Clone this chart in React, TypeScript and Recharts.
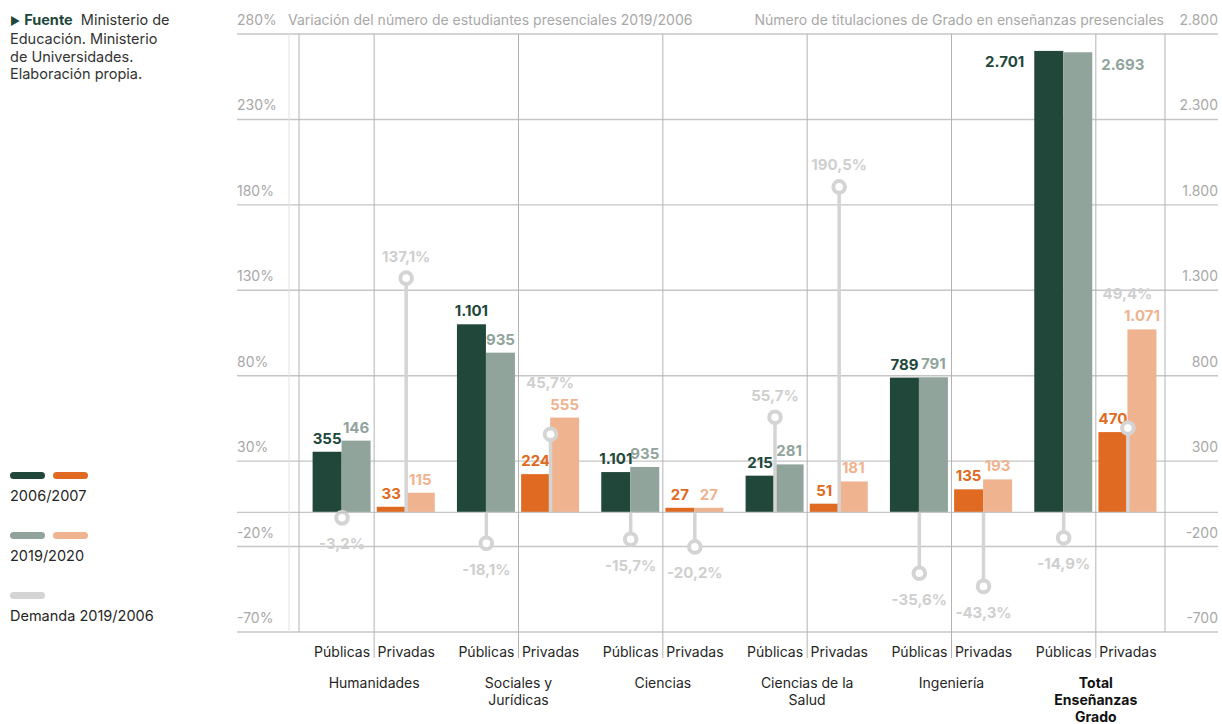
import React from 'react';
import { ComposedChart, Bar, XAxis, YAxis, CartesianGrid, ReferenceLine } from 'recharts';

const grupos = ['Humanidades', 'Sociales y|Jurídicas', 'Ciencias', 'Ciencias de la|Salud', 'Ingeniería', 'Total|Enseñanzas|Grado'];
const tipos = ['Públicas', 'Privadas'];

// altura de las barras tal como se ven en el gráfico
const titulaciones2006 = [355, 33, 1101, 224, 236, 27, 215, 51, 789, 135, 2701, 470];
const titulaciones2019 = [420, 115, 935, 555, 266, 27, 281, 181, 791, 193, 2693, 1071];
// cifras rotuladas (en el original no siempre coinciden con la barra)
const rotulos2006 = [355, 33, 1101, 224, 1101, 27, 215, 51, 789, 135, 2701, 470];
const rotulos2019 = [146, 115, 935, 555, 935, 27, 281, 181, 791, 193, 2693, 1071];
// variación de estudiantes 2019/2006 (%)
const demanda = [-3.2, 137.1, -18.1, 45.7, -15.7, -20.2, 55.7, 190.5, -35.6, -43.3, -14.9, 49.4];

const ticksPct = [-70, -20, 30, 80, 130, 180, 230, 280];
const FACTOR = 10; // el eje derecho es el izquierdo x10
const ticksNum = ticksPct.map((t) => t * FACTOR);

const W = 1222;
const H = 724;
// los ejes ocupan 1px cada uno
const MARGIN = { top: 34, right: 3, bottom: 91, left: 236 };
const PLOT_L = MARGIN.left + 1;
const PLOT_R = W - MARGIN.right - 1;
const PLOT_B = H - MARGIN.bottom - 1;
const PAD = { left: 65, right: 50 };
const PLOT_H = PLOT_B - MARGIN.top;
const BAND = (PLOT_R - PLOT_L - PAD.left - PAD.right) / (grupos.length * tipos.length);

const C = {
  pub06: '#21473b',
  pub19: '#91a49c',
  priv06: '#e06a22',
  priv19: '#f0b38f',
  dem: '#d4d4d4',
  demTxt: '#cfcfcf',
  grid: '#c6c6c6',
  split: '#b3b3b3',
  eje: '#a8a8a8',
  texto: '#262626',
};
const FONT = 'Inter, "Noto Sans", sans-serif';

const datos = grupos.flatMap((g, gi) =>
  tipos.map((t, ti) => {
    const i = gi * tipos.length + ti;
    return {
      cat: `${g}#${t}`,
      grupo: g,
      tipo: t,
      i,
      v2006: titulaciones2006[i],
      v2019: titulaciones2019[i],
      demanda: demanda[i],
    };
  })
);

const fmtNum = (n: number) => {
  const s = Math.abs(n);
  const txt = s >= 1000 ? `${Math.floor(s / 1000)}.${String(s % 1000).padStart(3, '0')}` : String(s);
  return n < 0 ? `-${txt}` : txt;
};
const fmtPct = (v: number) => `${v.toFixed(1).replace('.', ',')}%`;
const desplaz = (tipo: string) => (tipo === 'Públicas' ? 4 : -4);
// el círculo de demanda queda dentro de la barra 2019 -> rótulo encima de la barra
const demandaDentro = (i: number) =>
  tipos[i % 2] === 'Privadas' && demanda[i] > 0 && demanda[i] * FACTOR < titulaciones2019[i];

const estiloRotulo = { fontFamily: FONT, fontSize: 15, fontWeight: 700 };

function barra(props: any, serie: '2006' | '2019') {
  const { x, y, width, height, payload } = props;
  const pub = payload.tipo === 'Públicas';
  const bx = x + desplaz(payload.tipo);
  const fill = serie === '2006' ? (pub ? C.pub06 : C.priv06) : pub ? C.pub19 : C.priv19;
  const texto = fmtNum(serie === '2006' ? rotulos2006[payload.i] : rotulos2019[payload.i]);
  let rotulo;
  if (y - 22 < MARGIN.top) {
    rotulo =
      serie === '2006' ? (
        <text x={bx - 10} y={y + 16} textAnchor="end" fill={fill} {...estiloRotulo}>{texto}</text>
      ) : (
        <text x={bx + width + 9} y={y + 18} textAnchor="start" fill={fill} {...estiloRotulo}>{texto}</text>
      );
  } else {
    rotulo = (
      <text x={bx + width / 2} y={y - 8} textAnchor="middle" fill={fill} {...estiloRotulo}>{texto}</text>
    );
  }
  return (
    <g>
      <rect x={bx} y={y} width={width} height={Math.max(height, 0)} fill={fill} />
      {rotulo}
      {serie === '2019' && demandaDentro(payload.i) && (
        <text x={bx} y={y - 30} textAnchor="middle" fill={C.demTxt} {...estiloRotulo}>
          {fmtPct(payload.demanda)}
        </text>
      )}
    </g>
  );
}

function Piruleta(props: any) {
  const { x, y, width, height, payload } = props;
  const v = payload.demanda;
  const cx = x + width / 2 + desplaz(payload.tipo);
  const a = y;
  const b = y + height;
  const yVal = v >= 0 ? Math.min(a, b) : Math.max(a, b);
  const y0 = v >= 0 ? Math.max(a, b) : Math.min(a, b);
  return (
    <g>
      <line x1={cx} x2={cx} y1={y0} y2={yVal} stroke={C.dem} strokeWidth={3.5} />
      <circle cx={cx} cy={yVal} r={5.8} fill="#fff" stroke={C.dem} strokeWidth={4} />
      {!demandaDentro(payload.i) && (
        <text x={cx} y={v >= 0 ? yVal - 16.5 : yVal + 31.5} textAnchor="middle" fill={C.demTxt} {...estiloRotulo}>
          {fmtPct(v)}
        </text>
      )}
    </g>
  );
}

function TickX(props: any) {
  const { x, payload } = props;
  const y = PLOT_B;
  const row = datos.find((d) => d.cat === payload.value);
  if (!row) return null;
  const pub = row.tipo === 'Públicas';
  const lineas = row.grupo.split('|');
  const total = row.grupo.startsWith('Total');
  return (
    <g>
      {!pub && <line x1={x - BAND / 2} x2={x - BAND / 2} y1={y - PLOT_H} y2={y + 26} stroke={C.split} strokeWidth={1} />}
      {row.i === 0 && (
        <>
          <line x1={x - BAND / 2 - 13} x2={x - BAND / 2 - 13} y1={y - PLOT_H} y2={y} stroke="#e2e2e2" strokeWidth={1} />
          <line x1={x - BAND / 2 - 3} x2={x - BAND / 2 - 3} y1={y - PLOT_H} y2={y} stroke={C.split} strokeWidth={1} />
        </>
      )}
      {row.i === datos.length - 1 && (
        <line x1={x + BAND / 2 - 3} x2={x + BAND / 2 - 3} y1={y - PLOT_H} y2={y} stroke={C.split} strokeWidth={1} />
      )}
      <text x={x + desplaz(row.tipo)} y={y + 25} textAnchor="middle" fill={C.texto} fontFamily={FONT} fontSize={14}>
        {row.tipo}
      </text>
      {pub && (
        <text x={x + BAND / 2} y={y + 56} textAnchor="middle" fill={total ? '#111' : C.texto} fontFamily={FONT} fontSize={14} fontWeight={total ? 700 : 400}>
          {lineas.map((l, k) => (
            <tspan key={k} x={x + BAND / 2} dy={k === 0 ? 0 : 16.8}>{l}</tspan>
          ))}
        </text>
      )}
    </g>
  );
}

function TickPct(props: any) {
  const { y, payload } = props;
  return (
    <g>
      <text x={PLOT_L} y={y - 9} textAnchor="start" fill={C.eje} fontFamily={FONT} fontSize={14}>
        {`${payload.value}%`}
      </text>
      {payload.value === ticksPct[ticksPct.length - 1] && (
        <text x={PLOT_L + 51} y={y - 9} textAnchor="start" fill={C.eje} fontFamily={FONT} fontSize={14}>
          Variación del número de estudiantes presenciales 2019/2006
        </text>
      )}
    </g>
  );
}

function TickNum(props: any) {
  const { y, payload } = props;
  return (
    <g>
      <text x={PLOT_R} y={y - 9} textAnchor="end" fill={C.eje} fontFamily={FONT} fontSize={14}>
        {fmtNum(payload.value)}
      </text>
      {payload.value === ticksNum[ticksNum.length - 1] && (
        <text x={PLOT_R - 54} y={y - 9} textAnchor="end" fill={C.eje} fontFamily={FONT} fontSize={14}>
          Número de titulaciones de Grado en enseñanzas presenciales
        </text>
      )}
    </g>
  );
}

const pill = (color: string) => (
  <span style={{ display: 'inline-block', width: 35, height: 7, borderRadius: 4, background: color, marginRight: 8 }} />
);

function Leyenda() {
  const items = [
    { colores: [C.pub06, C.priv06], texto: '2006/2007' },
    { colores: [C.pub19, C.priv19], texto: '2019/2020' },
    { colores: [C.dem], texto: 'Demanda 2019/2006' },
  ];
  return (
    <div style={{ position: 'absolute', left: 10, top: 472, fontFamily: FONT, fontSize: 14.5, color: C.texto }}>
      {items.map((it) => (
        <div key={it.texto} style={{ height: 60 }}>
          <div style={{ height: 7, lineHeight: 0 }}>{it.colores.map((c) => <React.Fragment key={c}>{pill(c)}</React.Fragment>)}</div>
          <div style={{ marginTop: 8, lineHeight: '18px' }}>{it.texto}</div>
        </div>
      ))}
    </div>
  );
}

export default function App() {
  return (
    <div style={{ position: 'absolute', left: 0, top: 0, width: W, height: H, background: '#fff', fontFamily: FONT }}>
      <div style={{ position: 'absolute', left: 10, top: 11, fontSize: 14.5, lineHeight: '17.3px', color: '#333' }}>
        <span style={{ color: C.pub06, fontSize: 11 }}>▶</span>{' '}
        <b style={{ color: C.pub06 }}>Fuente</b>&nbsp;&nbsp;Ministerio de
        <br />
        Educación. Ministerio
        <br />
        de Universidades.
        <br />
        Elaboración propia.
      </div>
      <Leyenda />
      <div style={{ position: 'absolute', left: 0, top: 0 }}>
        <ComposedChart width={W} height={H} data={datos} margin={MARGIN} barCategoryGap={6.6} barGap={0}>
          <CartesianGrid xAxisId="x" yAxisId="n" vertical={false} stroke={C.grid} strokeWidth={1.4} />
          <XAxis
            xAxisId="x"
            dataKey="cat"
            padding={PAD}
            height={1}
            axisLine={false}
            tickLine={false}
            tickSize={0}
            tickMargin={0}
            interval={0}
            tick={<TickX />}
          />
          <XAxis xAxisId="d" dataKey="cat" padding={PAD} hide />
          <YAxis yAxisId="pct" domain={[-70, 280]} ticks={ticksPct} width={1} axisLine={false} tickLine={false} interval={0} tick={<TickPct />} />
          <YAxis
            yAxisId="n"
            orientation="right"
            domain={[-700, 2800]}
            ticks={ticksNum}
            width={1}
            axisLine={false}
            tickLine={false}
            interval={0}
            tick={<TickNum />}
          />
          <ReferenceLine xAxisId="x" yAxisId="n" y={0} stroke={C.grid} strokeWidth={1.4} />
          <Bar xAxisId="x" yAxisId="n" dataKey="v2006" shape={(p: any) => barra(p, '2006')} isAnimationActive={false} />
          <Bar xAxisId="x" yAxisId="n" dataKey="v2019" shape={(p: any) => barra(p, '2019')} isAnimationActive={false} />
          <Bar xAxisId="d" yAxisId="pct" dataKey="demanda" barSize={4} shape={Piruleta} isAnimationActive={false} />
        </ComposedChart>
      </div>
    </div>
  );
}
